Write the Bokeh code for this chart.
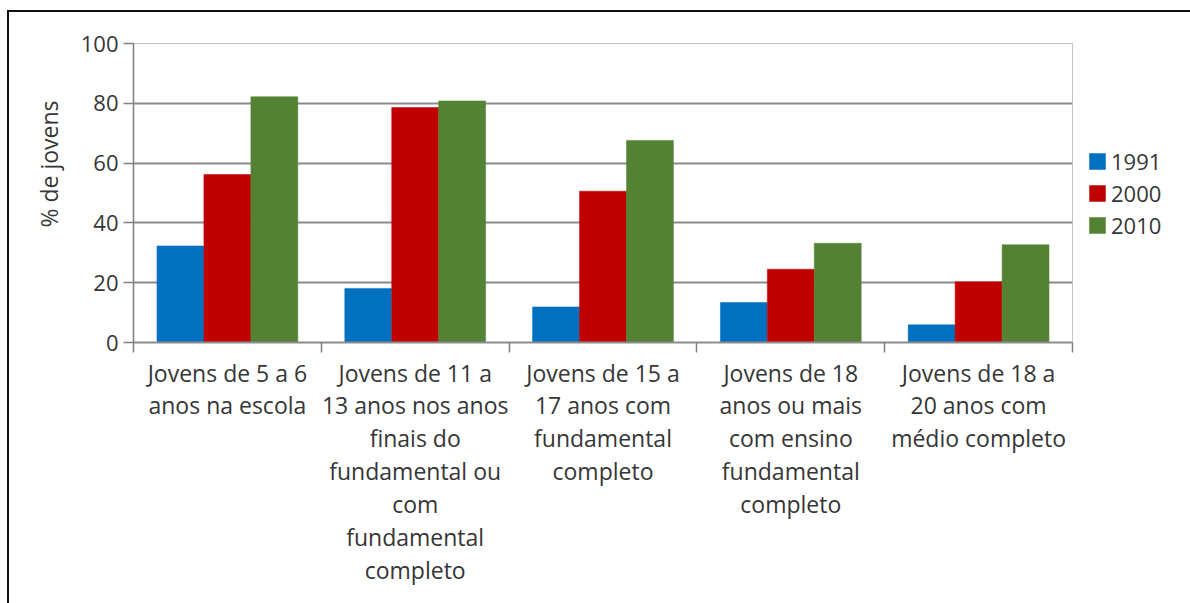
from bokeh.plotting import figure
from bokeh.models import ColumnDataSource, FixedTicker, Legend, LegendItem, Range1d, Title
from bokeh.transform import dodge
from bokeh.embed import file_html
from bokeh.resources import INLINE

# Indicator groups (x-axis categories, already broken into lines)
groups = [
    "Jovens de 5 a 6\nanos na escola",
    "Jovens de 11 a\n13 anos nos anos\nfinais do\nfundamental ou\ncom\nfundamental\ncompleto",
    "Jovens de 15 a\n17 anos com\nfundamental\ncompleto",
    "Jovens de 18\nanos ou mais\ncom ensino\nfundamental\ncompleto",
    "Jovens de 18 a\n20 anos com\nmédio completo",
]
years = ["1991", "2000", "2010"]

# Percentage of young people per indicator and census year
v1991 = [32.3, 18.1, 11.9, 13.4, 5.9]
v2000 = [56.2, 78.6, 50.6, 24.5, 20.3]
v2010 = [82.2, 80.8, 67.6, 33.2, 32.7]

y_ticks = [0, 20, 40, 60, 80, 100]

colors = ["#0070C0", "#C00000", "#548235"]
FONT = "Open Sans"
TEXT = "#363636"

centers = [i + 0.5 for i in range(len(groups))]
src = ColumnDataSource(dict(x=centers, y1991=v1991, y2000=v2000, y2010=v2010))

p = figure(
    frame_width=939, frame_height=299,
    x_range=Range1d(0, len(groups)), y_range=Range1d(0, 100),
    output_backend="svg", toolbar_location=None,
    min_border_left=124, min_border_right=0,
    min_border_top=31, min_border_bottom=261,
    margin=(10, 0, 0, 7),
    styles={"border-left": "2px solid #111", "border-top": "2px solid #111"},
)
p.background_fill_color = "white"
p.border_fill_color = "white"
p.outline_line_color = "#c4c4c4"
p.outline_line_width = 1

bar_w = 0.25
renderers = []
for col, off, c in zip(["y1991", "y2000", "y2010"], [-0.25, 0.0, 0.25], colors):
    r = p.vbar(x=dodge("x", off, range=p.x_range), top=col, width=bar_w,
               bottom=0, source=src, fill_color=c, line_color=c, line_width=0.5)
    renderers.append(r)

# y axis
p.yaxis.ticker = FixedTicker(ticks=y_ticks)
p.yaxis.major_tick_out = 10
p.yaxis.major_tick_in = 0
p.yaxis.minor_tick_out = 0
p.yaxis.minor_tick_in = 0
p.yaxis.axis_line_color = "#808080"
p.yaxis.axis_line_width = 1.5
p.yaxis.major_tick_line_color = "#808080"
p.yaxis.major_tick_line_width = 1.5
p.yaxis.major_label_text_font = FONT
p.yaxis.major_label_text_font_size = "22px"
p.yaxis.major_label_text_color = TEXT
p.yaxis.major_label_standoff = 5

# y axis title, placed near the upper part of the axis
p.add_layout(Title(text="% de jovens", align="right", offset=57, standoff=25,
                   text_font=FONT, text_font_size="23px", text_font_style="normal",
                   text_color=TEXT), "left")

# x axis: labels at group centres, tick marks at group boundaries
p.xaxis.ticker = FixedTicker(ticks=centers, minor_ticks=list(range(len(groups) + 1)))
p.xaxis.major_label_overrides = {c: g for c, g in zip(centers, groups)}
p.xaxis.major_tick_out = 0
p.xaxis.major_tick_in = 0
p.xaxis.minor_tick_out = 10
p.xaxis.minor_tick_in = 0
p.xaxis.minor_tick_line_color = "#808080"
p.xaxis.minor_tick_line_width = 1.5
p.xaxis.axis_line_color = "#8c8c8c"
p.xaxis.axis_line_width = 2
p.xaxis.major_label_text_font = FONT
p.xaxis.major_label_text_font_size = "23px"
p.xaxis.major_label_text_color = TEXT
p.xaxis.major_label_text_line_height = 1.03
p.xaxis.major_label_standoff = 4

p.xgrid.visible = False
p.ygrid.ticker = FixedTicker(ticks=y_ticks)
p.ygrid.grid_line_color = "#8a8a8a"
p.ygrid.grid_line_width = 2

legend = Legend(
    items=[LegendItem(label=y, renderers=[r]) for y, r in zip(years, renderers)],
    location="left", orientation="vertical",
    glyph_width=20, glyph_height=20, label_standoff=4, spacing=2,
    padding=0, margin=15,
    label_text_font=FONT, label_text_font_size="22px", label_text_color=TEXT,
    border_line_color=None, background_fill_alpha=0,
)
p.add_layout(legend, "right")

open("out.html", "w").write(file_html(p, INLINE))
